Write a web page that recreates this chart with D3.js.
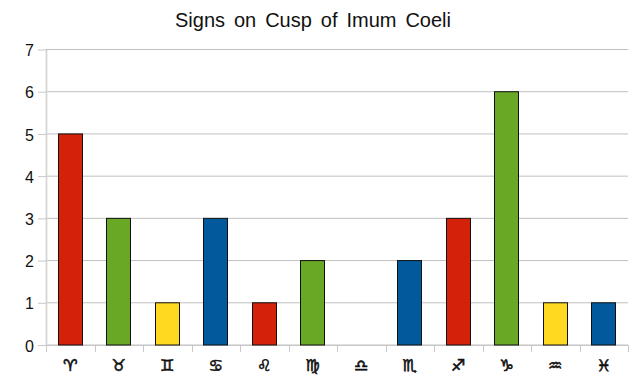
<!DOCTYPE html>
<html>
<head>
<meta charset="utf-8">
<script src="https://cdn.jsdelivr.net/npm/d3@7"></script>
<style>
    html, body { margin: 0; padding: 0; background: #fff; }
    svg { display: block; }
    .domain, .tick line { stroke: #c8c8c8; }
    .y-axis .domain { stroke: #d2d2d2; stroke-width: 1.6; }
    .grid line { stroke: #c0c0c0; }
    .bar { stroke: #111; stroke-width: 1; }
</style>
</head>
<body>
<svg id="chart"></svg>
<script>
const signs = ['\u2648', '\u2649', '\u264A', '\u264B', '\u264C', '\u264D', '\u264E', '\u264F', '\u2650', '\u2651', '\u2652', '\u2653'];
const counts = [5, 3, 1, 3, 1, 2, 0, 2, 3, 6, 1, 1];
const elements = ['fire', 'earth', 'air', 'water', 'fire', 'earth', 'air', 'water', 'fire', 'earth', 'air', 'water'];
const yTicks = [0, 1, 2, 3, 4, 5, 6, 7];

const elementColors = {
    fire: '#d4210a',
    earth: '#68a825',
    air: '#ffd91f',
    water: '#005a9c'
};

const width = 642,
    height = 379;
const MARGIN = { top: 49.5, right: 14, bottom: 34, left: 46 };
const boundedWidth = width - MARGIN.left - MARGIN.right,
    boundedHeight = height - MARGIN.top - MARGIN.bottom;

const $svg = d3.select('#chart')
    .attr('width', width)
    .attr('height', height)
    .style('font-family', '"Liberation Sans", sans-serif');

const xScale = d3.scaleBand()
    .domain(signs)
    .range([0, boundedWidth])
    .paddingInner(0.505)
    .paddingOuter(0.2525);
const yScale = d3.scaleLinear()
    .domain([0, 7])
    .range([boundedHeight, 0]);

const $gVis = $svg.append('g')
    .attr('transform', `translate(${MARGIN.left}, ${MARGIN.top})`);

$svg.append('text')
    .attr('x', 313)
    .attr('y', 27)
    .attr('text-anchor', 'middle')
    .attr('font-size', 20)
    .attr('word-spacing', 3.4)
    .attr('fill', '#111')
    .text('Signs on Cusp of Imum Coeli');

// gridlines first so the bars sit on top
$gVis.append('g')
    .attr('class', 'grid')
    .selectAll('line')
    .data(yTicks)
    .enter().append('line')
    .attr('x1', 0)
    .attr('x2', boundedWidth)
    .attr('y1', d => yScale(d))
    .attr('y2', d => yScale(d));

const $yAxis = $gVis.append('g')
    .attr('class', 'y-axis')
    .call(d3.axisLeft(yScale).tickValues(yTicks).tickFormat(d3.format('d')).tickSize(8).tickPadding(4).tickSizeOuter(0));
$yAxis.selectAll('text')
    .attr('font-size', 16)
    .attr('fill', '#111')
    .attr('y', 1)
    .attr('font-family', '"Liberation Sans", sans-serif');

// band edges, not centres, carry the x ticks in the original
const $xAxis = $gVis.append('g')
    .attr('transform', `translate(0, ${boundedHeight})`)
    .call(d3.axisBottom(xScale).tickSize(0).tickPadding(15).tickSizeOuter(0));
$xAxis.selectAll('text')
    .attr('font-size', 16)
    .attr('fill', '#111')
    .attr('stroke', '#111')
    .attr('stroke-width', 0.6)
    .attr('font-family', '"DejaVu Sans", sans-serif')
    .text(d => d + '\uFE0E');
const step = xScale.step();
$xAxis.selectAll('.edge')
    .data(d3.range(signs.length + 1))
    .enter().append('line')
    .attr('class', 'edge')
    .attr('x1', d => Math.round(d * step) + 0.5)
    .attr('x2', d => Math.round(d * step) + 0.5)
    .attr('y1', 0)
    .attr('y2', 7)
    .attr('stroke', '#c8c8c8');

$gVis.append('g')
    .selectAll('rect')
    .data(signs)
    .enter().append('rect')
    .attr('class', 'bar')
    .attr('x', d => Math.floor(xScale(d)) + 0.5)
    .attr('y', (d, i) => yScale(counts[i]))
    .attr('width', Math.round(xScale.bandwidth()))
    .attr('height', (d, i) => boundedHeight - yScale(counts[i]))
    .attr('fill', (d, i) => elementColors[elements[i]])
    .style('display', (d, i) => counts[i] === 0 ? 'none' : null);
</script>
</body>
</html>
